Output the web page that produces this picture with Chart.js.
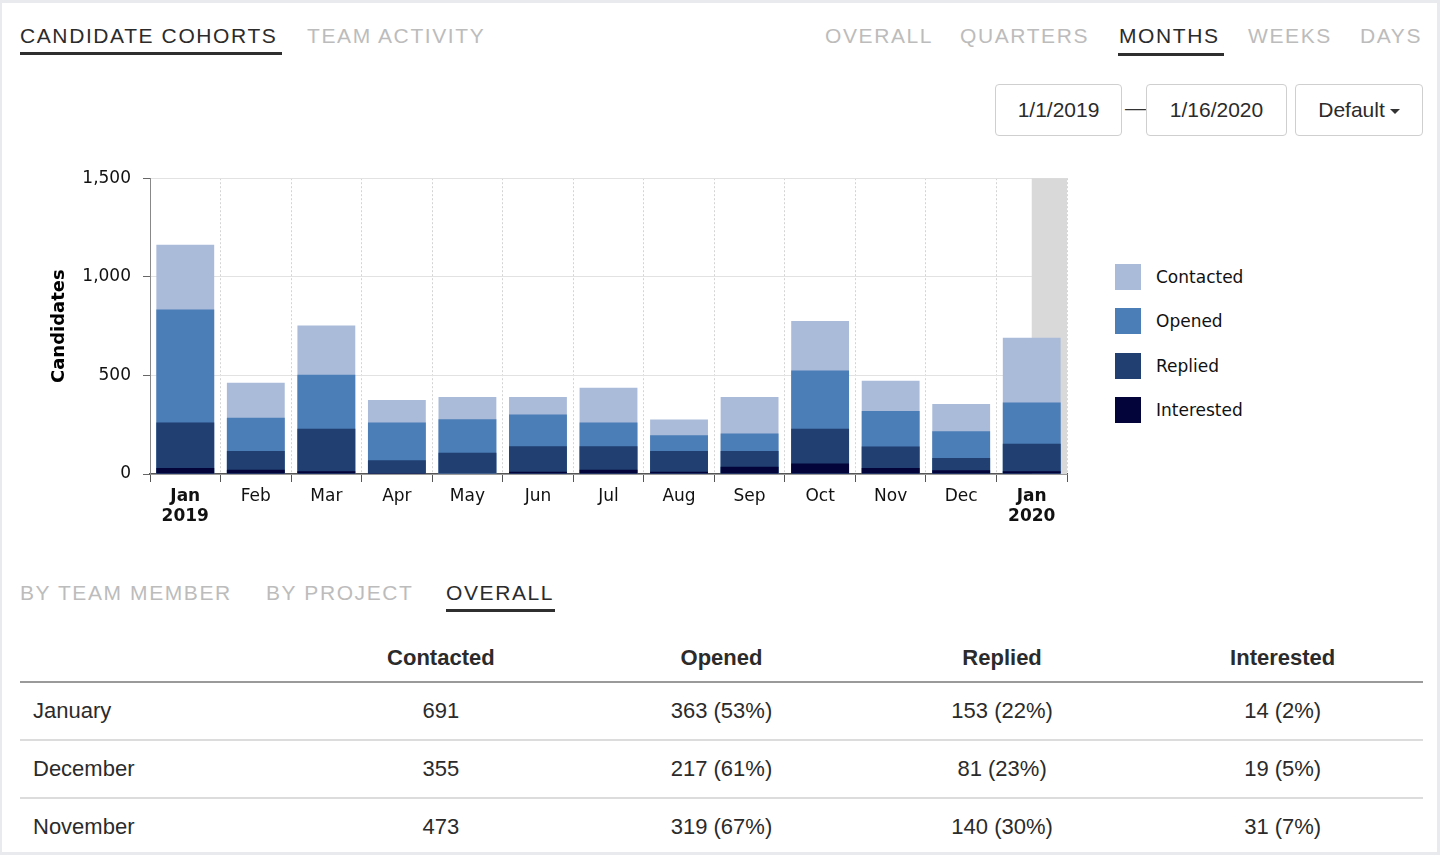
<!DOCTYPE html>
<html>
<head>
<meta charset="utf-8">
<script src="https://cdn.jsdelivr.net/npm/chart.js@4.4.1/dist/chart.umd.min.js"></script>
<style>
  html, body { margin: 0; padding: 0; }
  body { width: 1440px; height: 855px; background: #e9eaee; position: relative; overflow: hidden; font-family: "Liberation Sans", Arial, sans-serif; }
  #card { position: absolute; left: 2px; top: 3px; width: 1435px; height: 849px; background: #fff; }
  .tab { position: absolute; top: 24px; font-size: 21px; line-height: 24px; letter-spacing: 1.6px; color: #bcbcbc; white-space: nowrap; }
  .tab.on { color: #2b2b2b; }
  .bar { position: absolute; height: 3px; background: #2f2f2f; }
  .box { position: absolute; top: 84px; height: 50px; border: 1px solid #cfcfcf; border-radius: 4px; font-size: 21px; line-height: 50px; text-align: center; color: #2b2b2b; background: #fff; }
  .caret { display: inline-block; width: 0; height: 0; border-left: 5px solid transparent; border-right: 5px solid transparent; border-top: 5px solid #333; vertical-align: middle; margin-left: 5px; }
  #chartWrap { position: absolute; left: 40px; top: 156px; width: 1030px; height: 384px; }
  #legend { position: absolute; left: 1115px; top: 255px; font-family: "DejaVu Sans", Verdana, sans-serif; font-size: 17px; color: #111; }
  #legend .item { height: 44.3px; display: flex; align-items: flex-start; }
  #legend .sw { width: 26px; height: 26px; margin-right: 15px; margin-top: 9px; }
  #legend .lb { line-height: 26px; margin-top: 9px; }
  #tbl { position: absolute; left: 20px; top: 635px; width: 1403px; border-collapse: collapse; table-layout: fixed; font-size: 22px; color: #2b2b2b; }
  #tbl th { height: 46px; font-weight: bold; text-align: center; border-bottom: 2px solid #9a9a9a; padding: 0; }
  #tbl td { height: 56px; text-align: center; border-bottom: 2px solid #dcdcdc; padding: 0; }
  #tbl td:first-child { text-align: left; padding-left: 13px; }
</style>
</head>
<body>
<div id="card"></div>

<div class="tab on" style="left:20px">CANDIDATE COHORTS</div>
<div class="bar" style="left:20px; top:52px; width:262px"></div>
<div class="tab" style="left:307px">TEAM ACTIVITY</div>

<div class="tab" style="left:825px">OVERALL</div>
<div class="tab" style="left:960px">QUARTERS</div>
<div class="tab on" style="left:1119px">MONTHS</div>
<div class="bar" style="left:1118px; top:53px; width:106px"></div>
<div class="tab" style="left:1248px">WEEKS</div>
<div class="tab" style="left:1360px">DAYS</div>

<div class="box" style="left:995px; width:125px">1/1/2019</div>
<div style="position:absolute; left:1125px; top:96px; font-size:21px; color:#333">—</div>
<div class="box" style="left:1146px; width:139px">1/16/2020</div>
<div class="box" style="left:1295px; width:126px">Default<span class="caret"></span></div>

<div id="chartWrap"><canvas id="chart"></canvas></div>
<div id="legend"></div>

<div class="tab" style="left:20px; top:581px">BY TEAM MEMBER</div>
<div class="tab" style="left:266px; top:581px">BY PROJECT</div>
<div class="tab on" style="left:446px; top:581px">OVERALL</div>
<div class="bar" style="left:446px; top:609px; width:109px"></div>

<table id="tbl"></table>

<script>
// Donnees (les 3 derniers mois viennent du tableau)
const mois = [['Jan', '2019'], 'Feb', 'Mar', 'Apr', 'May', 'Jun', 'Jul', 'Aug', 'Sep', 'Oct', 'Nov', 'Dec', ['Jan', '2020']];
const moisComplets = ['January 2019', 'February', 'March', 'April', 'May', 'June', 'July', 'August', 'September', 'October', 'November', 'December', 'January'];
const contacted  = [1163, 463, 753, 375, 390, 390, 437, 276, 390, 776, 473, 355, 691];
const opened     = [834, 285, 503, 261, 278, 302, 261, 197, 205, 525, 319, 217, 363];
const replied    = [261, 117, 229, 70, 108, 141, 141, 117, 117, 229, 140, 81, 153];
const interested = [31, 22, 14, 5, 3, 12, 22, 12, 37, 53, 31, 19, 14];
const yTicks = [0, 500, 1000, 1500];

const series = ['Contacted', 'Opened', 'Replied', 'Interested'];
const couleurs = ['#aabbd9', '#4b7db6', '#213f70', '#03053a'];
const valeurs = [contacted, opened, replied, interested];

// Legende
const legend = document.getElementById('legend');
series.forEach((nom, i) => {
    legend.innerHTML += `<div class="item"><div class="sw" style="background:${couleurs[i]}"></div><div class="lb">${nom}</div></div>`;
});

// Tableau : les trois derniers mois, du plus recent au plus ancien
const tbl = document.getElementById('tbl');
let html = '<tr><th></th>' + series.map(s => `<th>${s}</th>`).join('') + '</tr>';
for (let i = mois.length - 1; i >= mois.length - 3; i--) {
    const c = contacted[i];
    const pct = v => `${v} (${Math.round(v / c * 100)}%)`;
    html += `<tr><td>${moisComplets[i]}</td><td>${c}</td><td>${pct(opened[i])}</td><td>${pct(replied[i])}</td><td>${pct(interested[i])}</td></tr>`;
}
tbl.innerHTML = html;

// Zone grise : periode apres la date de fin (16 janvier 2020)
const zoneFuture = {
    id: 'zoneFuture',
    beforeDatasetsDraw(chart) {
        const { ctx, chartArea, scales } = chart;
        const x0 = scales.x.getPixelForValue(mois.length - 1);
        ctx.save();
        ctx.fillStyle = '#d9d9d9';
        ctx.fillRect(x0, chartArea.top, chartArea.right - x0, chartArea.bottom - chartArea.top);
        ctx.restore();
    }
};

const ctx = document.getElementById('chart').getContext('2d');
new Chart(ctx, {
    type: 'bar',
    data: {
        labels: mois,
        datasets: series.map((nom, i) => ({
            label: nom,
            data: valeurs[i],
            backgroundColor: couleurs[i],
            order: series.length - i,
            grouped: false,
            barPercentage: 0.82,
            categoryPercentage: 1
        }))
    },
    options: {
        responsive: true,
        maintainAspectRatio: false,
        animation: false,
        layout: { padding: { top: 0, right: 3, bottom: 0, left: 0 } },
        plugins: {
            legend: { display: false },
            tooltip: { enabled: false }
        },
        scales: {
            x: {
                afterFit: s => { s.height = 66; },
                grid: {
                    offset: true,
                    color: '#d4d4d4',
                    tickColor: '#555',
                    tickLength: 8,
                    tickBorderDash: []
                },
                border: { color: '#555', width: 1.5, dash: [2, 2] },
                ticks: {
                    padding: 4,
                    color: '#111',
                    maxRotation: 0,
                    autoSkip: false,
                    font: c => ({
                        family: '"DejaVu Sans", Verdana, sans-serif',
                        size: 17,
                        lineHeight: 1.2,
                        weight: (c.index === 0 || c.index === mois.length - 1) ? 'bold' : 'normal'
                    })
                }
            },
            y: {
                min: 0,
                max: 1500,
                afterFit: s => { s.width = 110; },
                afterBuildTicks: s => { s.ticks = yTicks.map(v => ({ value: v })); },
                grid: { color: '#e2e2e2', tickColor: '#666', tickLength: 7 },
                border: { color: '#888', width: 1 },
                ticks: {
                    padding: 12,
                    color: '#111',
                    font: { family: '"DejaVu Sans", Verdana, sans-serif', size: 17 }
                },
                title: {
                    display: true,
                    text: 'Candidates',
                    color: '#000',
                    padding: { top: 9, bottom: 0 },
                    font: { family: '"DejaVu Sans", Verdana, sans-serif', size: 18, weight: 'bold' }
                }
            }
        }
    },
    plugins: [zoneFuture]
});
</script>
</body>
</html>
